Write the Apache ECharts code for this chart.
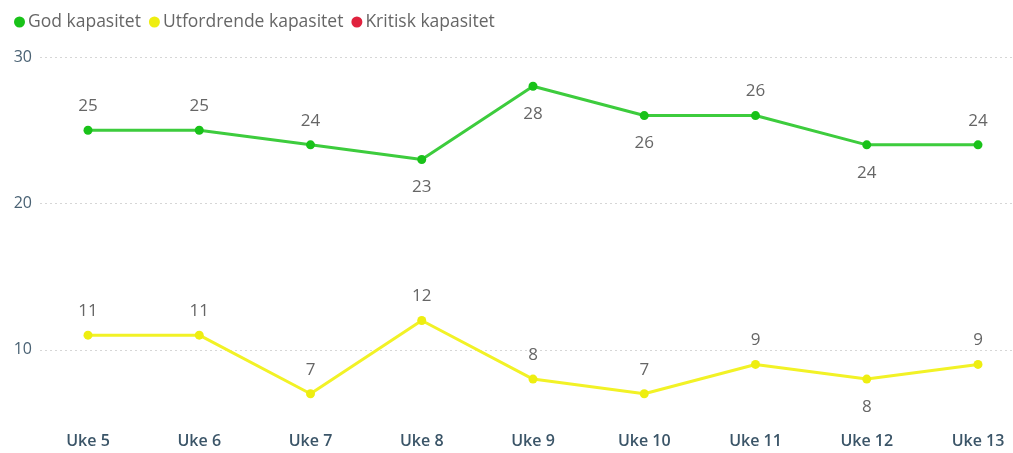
<!DOCTYPE html>
<html>
<head>
<meta charset="utf-8">
<script src="https://cdn.jsdelivr.net/npm/echarts@6/dist/echarts.min.js"></script>
<style>
  html, body { margin: 0; padding: 0; background: #fff; }
  #main { width: 1013px; height: 453px; }
</style>
</head>
<body>
<div id="main"></div>
<script>
var weeks = ['Uke 5', 'Uke 6', 'Uke 7', 'Uke 8', 'Uke 9', 'Uke 10', 'Uke 11', 'Uke 12', 'Uke 13'];
var god = [25, 25, 24, 23, 28, 26, 26, 24, 24];
var utfordrende = [11, 11, 7, 12, 8, 7, 9, 8, 9];
var kritisk = [];
var yTicks = [10, 20, 30];

// which points get their label under the marker
var godBelow = [3, 4, 5, 7];
var utfBelow = [7];

function withLabels(values, below) {
  return values.map(function (v, i) {
    var under = below.indexOf(i) >= 0;
    return {
      value: v,
      label: { position: under ? 'bottom' : 'top', distance: under ? 15 : 11 }
    };
  });
}

var font = '"Open Sans", "Noto Sans", sans-serif';

var chart = echarts.init(document.getElementById('main'));
chart.setOption({
  animation: false,
  textStyle: { fontFamily: font },
  legend: {
    left: 9,
    top: 8,
    itemWidth: 11,
    itemHeight: 11,
    itemGap: 8,
    icon: 'circle',
    textStyle: { color: '#666', fontSize: 17.5, fontFamily: font, padding: [0, 0, 0, -2] },
    data: ['God kapasitet', 'Utfordrende kapasitet', 'Kritisk kapasitet']
  },
  grid: [
    { left: 40, right: 0, top: 57, bottom: 30 },
    { left: 88, right: 35, top: 57, bottom: 30 }
  ],
  xAxis: [
    { gridIndex: 0, type: 'value', show: false },
    {
      gridIndex: 1,
      type: 'category',
      data: weeks,
      boundaryGap: false,
      axisLine: { show: false },
      axisTick: { show: false },
      axisLabel: { color: '#3b5568', fontSize: 16, fontWeight: 600, margin: 10, fontFamily: font }
    }
  ],
  yAxis: [
    {
      gridIndex: 0,
      type: 'value',
      min: 5,
      max: 30,
      interval: 5,
      axisLine: { show: false },
      axisTick: { show: false },
      axisLabel: {
        color: '#4a6274',
        fontSize: 16,
        margin: 8,
        fontFamily: font,
        formatter: function (v) { return yTicks.indexOf(v) >= 0 ? v : ''; }
      },
      splitLine: {
        lineStyle: { color: ['rgba(0,0,0,0)', '#d6d6d6'], type: [2, 3], width: 1 }
      }
    },
    { gridIndex: 1, type: 'value', min: 5, max: 30, show: false }
  ],
  series: [
    {
      name: 'God kapasitet',
      type: 'line',
      xAxisIndex: 1,
      yAxisIndex: 1,
      data: withLabels(god, godBelow),
      color: '#19c219',
      symbol: 'circle',
      symbolSize: 9,
      lineStyle: { width: 3, color: '#3dcc3d' },
      label: { show: true, color: '#666', fontSize: 17, fontFamily: font }
    },
    {
      name: 'Utfordrende kapasitet',
      type: 'line',
      xAxisIndex: 1,
      yAxisIndex: 1,
      data: withLabels(utfordrende, utfBelow),
      color: '#eeee10',
      symbol: 'circle',
      symbolSize: 9,
      lineStyle: { width: 3, color: '#f2f226' },
      label: { show: true, color: '#666', fontSize: 17, fontFamily: font }
    },
    {
      name: 'Kritisk kapasitet',
      type: 'line',
      xAxisIndex: 1,
      yAxisIndex: 1,
      data: kritisk,
      color: '#e0223e',
      symbol: 'circle'
    }
  ]
});
</script>
</body>
</html>
